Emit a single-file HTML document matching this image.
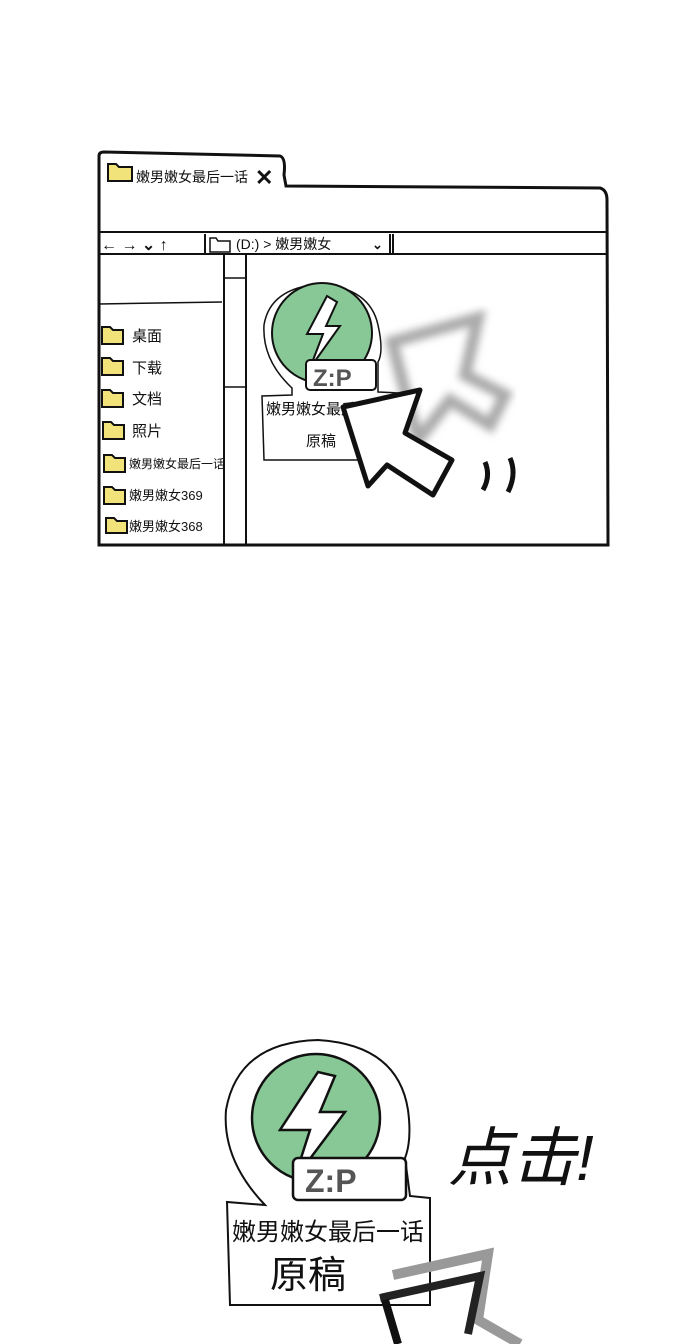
<!DOCTYPE html>
<html><head><meta charset="utf-8"><style>
html,body{margin:0;padding:0;background:#fff;}
svg{display:block}
text{font-family:"Liberation Sans","Noto Sans CJK SC",sans-serif;fill:#111}
</style></head><body>
<svg width="690" height="1344" viewBox="0 0 690 1344" xmlns="http://www.w3.org/2000/svg">
<defs><filter id="bl"><feGaussianBlur stdDeviation="4"/></filter></defs>
<!-- window -->
<path d="M99,545 L99,156 Q99,152 104,152 L280,156 Q286,158 284,175 L286,186 L600,188 Q607,190 607,200 L608,545 Z" fill="#fff" stroke="#111" stroke-width="3"/>
<line x1="99" y1="232" x2="607" y2="232" stroke="#111" stroke-width="2"/>
<line x1="99" y1="254" x2="607" y2="254" stroke="#111" stroke-width="2"/>
<line x1="205" y1="234" x2="205" y2="254" stroke="#111" stroke-width="2"/>
<line x1="390" y1="234" x2="390" y2="254" stroke="#111" stroke-width="2"/>
<line x1="393" y1="234" x2="393" y2="254" stroke="#111" stroke-width="2"/>
<line x1="224" y1="254" x2="224" y2="545" stroke="#111" stroke-width="2"/>
<line x1="246" y1="254" x2="246" y2="545" stroke="#111" stroke-width="2"/>
<line x1="224" y1="278" x2="246" y2="278" stroke="#111" stroke-width="1.5"/>
<line x1="224" y1="387" x2="246" y2="387" stroke="#111" stroke-width="1.5"/>
<line x1="99" y1="304" x2="222" y2="302" stroke="#111" stroke-width="1.5"/>
<line x1="99" y1="545" x2="607" y2="545" stroke="#111" stroke-width="3"/>
<!-- tab -->
<path d="M108,164 h8 l3,3 h13 v14 h-24 z" fill="#f2e27a" stroke="#111" stroke-width="2"/>
<text x="136" y="182" font-size="14">嫩男嫩女最后一话</text>
<text x="255" y="185" font-size="22" font-weight="bold">✕</text>
<!-- toolbar -->
<text x="101" y="250" font-size="16" font-weight="bold">←  →  ⌄  ↑</text>
<path d="M210,238 h6 l2,3 h12 v11 h-20 z" fill="#fff" stroke="#111" stroke-width="1.5"/>
<text x="236" y="249" font-size="14">(D:)  &gt; 嫩男嫩女</text>
<text x="372" y="249" font-size="13" font-weight="bold">⌄</text>
<!-- sidebar -->
<g font-size="15">
<g fill="#f2e27a" stroke="#111" stroke-width="2">
<path d="M102,327 h8 l3,3 h10 v14 h-21 z"/>
<path d="M102,358 h8 l3,3 h10 v14 h-21 z"/>
<path d="M102,390 h8 l3,3 h10 v14 h-21 z"/>
<path d="M103,422 h8 l3,3 h10 v14 h-21 z"/>
<path d="M104,455 h8 l3,3 h10 v14 h-21 z"/>
<path d="M104,487 h8 l3,3 h10 v14 h-21 z"/>
<path d="M106,518 h8 l3,3 h10 v12 h-21 z"/>
</g>
<text x="132" y="341">桌面</text>
<text x="132" y="373">下载</text>
<text x="132" y="404">文档</text>
<text x="132" y="436">照片</text>
<text x="129" y="468" font-size="12">嫩男嫩女最后一话</text>
<text x="129" y="500" font-size="13">嫩男嫩女369</text>
<text x="129" y="531" font-size="13">嫩男嫩女368</text>
</g>
<!-- small zip icon -->
<path d="M292,388 Q262,360 264,325 Q270,288 320,284 Q370,288 378,325 Q384,352 378,362 L378,392 L400,393 L400,460 L264,460 L262,396 L292,395 Z" fill="#fff" stroke="#111" stroke-width="1.5"/>
<circle cx="322" cy="333" r="50" fill="#88c896" stroke="#111" stroke-width="2"/>
<path d="M327,296 L307,334 L323,334 L310,368 L340,326 L326,326 L337,302 Z" fill="#fff" stroke="#111" stroke-width="2"/>
<rect x="306" y="360" width="70" height="30" rx="4" fill="#fff" stroke="#111" stroke-width="2"/>
<text x="313" y="386" font-size="24" font-weight="bold" style="fill:#555">Z:P</text>
<text x="266" y="414" font-size="15">嫩男嫩女最后</text>
<text x="306" y="446" font-size="15">原稿</text>
<!-- ghost arrow -->
<path d="M392,342 L478,318 L465,375 L505,395 L490,425 L450,400 L418,440 Z" fill="none" stroke="#aaa" stroke-width="12" filter="url(#bl)"/>
<!-- cursor -->
<path d="M343,407 L420,390 L405,433 L452,460 L433,495 L387,465 L368,486 Z" fill="#fff" stroke="#111" stroke-width="5" stroke-linejoin="round"/>
<path d="M485,462 q6,14 -2,28 M510,458 q7,16 -2,34" fill="none" stroke="#111" stroke-width="5"/>
<!-- big zip icon -->
<path d="M265,1205 Q222,1160 226,1110 Q238,1042 318,1040 Q398,1045 408,1110 Q412,1140 405,1158 L410,1196 L430,1198 L430,1305 L230,1305 L227,1202 Z" fill="#fff" stroke="#111" stroke-width="2"/>
<circle cx="316" cy="1118" r="64" fill="#88c896" stroke="#111" stroke-width="2.5"/>
<path d="M318,1072 L280,1130 L310,1130 L294,1180 L345,1112 L320,1112 L335,1076 Z" fill="#fff" stroke="#111" stroke-width="2.5"/>
<rect x="293" y="1158" width="113" height="42" rx="5" fill="#fff" stroke="#111" stroke-width="2.5"/>
<text x="305" y="1192" font-size="32" font-weight="bold" style="fill:#555">Z:P</text>
<text x="232" y="1240" font-size="24">嫩男嫩女最后一话</text>
<text x="270" y="1288" font-size="38">原稿</text>
<text x="448" y="1180" font-size="64" font-style="italic">点击!</text>
<!-- bottom arrow -->
<path d="M393,1275 L488,1254 L478,1320 L520,1344" fill="none" stroke="#999" stroke-width="10"/>
<path d="M380,1298 L480,1276 L468,1334" fill="none" stroke="#222" stroke-width="8"/>
<path d="M385,1300 L398,1344" stroke="#111" stroke-width="8"/>
</svg>
</body></html>
